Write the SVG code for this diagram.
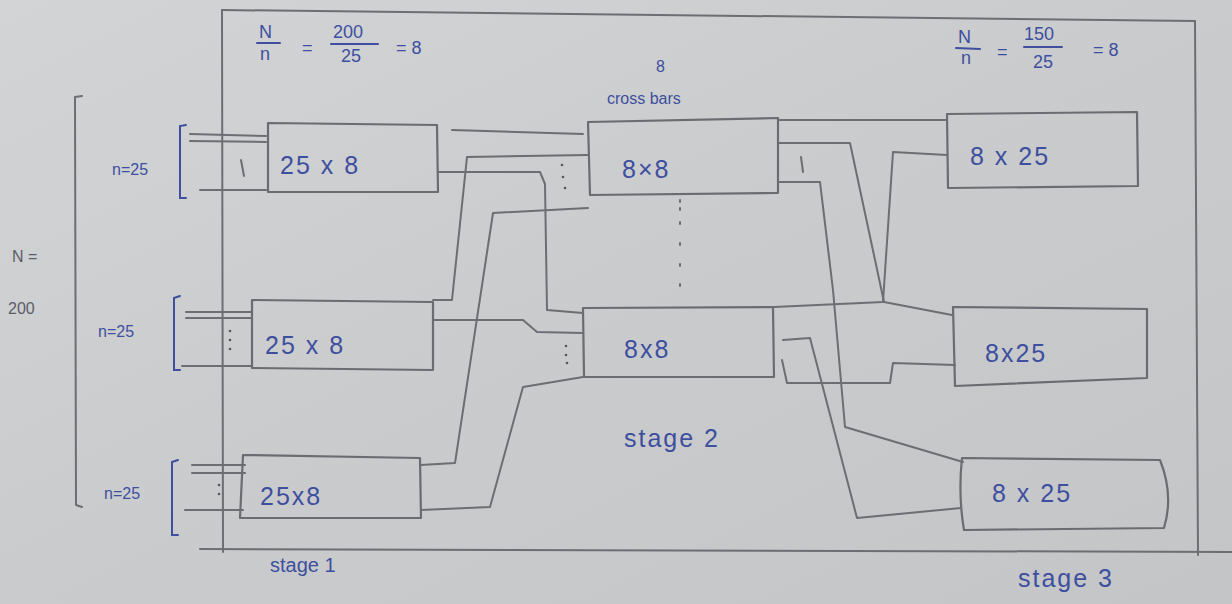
<svg xmlns="http://www.w3.org/2000/svg" width="1232" height="604" viewBox="0 0 1232 604">
<defs>
<linearGradient id="paper" x1="0" y1="0" x2="1" y2="1">
<stop offset="0" stop-color="#d3d4d6"/>
<stop offset="0.5" stop-color="#cacbcd"/>
<stop offset="1" stop-color="#c4c5c7"/>
</linearGradient>
</defs>
<style>
.pen{fill:none;stroke:#6c6e73;stroke-width:2;stroke-linecap:round;stroke-linejoin:round}
.box{fill:none;stroke:#6a6c71;stroke-width:2.2;stroke-linejoin:round}
.ink{fill:#3d4f9e;font-family:"Liberation Sans",Arial,sans-serif}
.inkl{fill:none;stroke:#3d4f9e;stroke-width:2;stroke-linecap:round}
.lbl{font-size:25px;letter-spacing:2px}
.sm{font-size:16px}
.fr{font-size:18px}
.st{font-size:20px}
.gr{fill:#5a5c66;font-family:"Liberation Sans",Arial,sans-serif;font-size:16px}
.dot{fill:#55575c}
</style>
<rect width="1232" height="604" fill="url(#paper)"/>

<g id="frame">
<path class="pen" d="M222,10 L1195,21"/>
<path class="pen" d="M222,10 L223,552"/>
<path class="pen" d="M1195,21 L1198,555"/>
<path class="pen" d="M200,549 L1232,552"/>
<path class="pen" d="M82,96 L75,97 L76,505 L82,507"/>
</g>

<g id="formula-left">
<text class="ink fr" x="259" y="38">N</text>
<path class="inkl" d="M257,43 L280,43"/>
<text class="ink fr" x="260" y="60">n</text>
<text class="ink fr" x="302" y="54">=</text>
<text class="ink fr" x="333" y="38">200</text>
<path class="inkl" d="M331,44 L378,44"/>
<text class="ink fr" x="341" y="62">25</text>
<text class="ink fr" x="396" y="54">= 8</text>
</g>

<g id="formula-right">
<text class="ink fr" x="958" y="43">N</text>
<path class="inkl" d="M956,48 L980,49"/>
<text class="ink fr" x="961" y="64">n</text>
<text class="ink fr" x="997" y="58">=</text>
<text class="ink fr" x="1024" y="40">150</text>
<path class="inkl" d="M1024,47 L1062,47"/>
<text class="ink fr" x="1033" y="68">25</text>
<text class="ink fr" x="1093" y="56">= 8</text>
</g>

<g id="crossbars-label">
<text class="ink sm" x="656" y="72">8</text>
<text class="ink sm" x="607" y="104">cross bars</text>
</g>

<g id="N-label">
<text class="gr" x="12" y="262">N =</text>
<text class="gr" x="8" y="314">200</text>
</g>

<g id="input1">
<text class="ink sm" x="112" y="175">n=25</text>
<path class="inkl" d="M186,125 L180,126 L180,198 L186,198"/>
<path class="pen" d="M190,134 L266,136 M190,141 L266,142 M200,190 L266,190"/>
<path class="pen" d="M241,160 L244,176"/>
</g>
<g id="input2">
<text class="ink sm" x="98" y="337">n=25</text>
<path class="inkl" d="M180,296 L174,298 L174,370 L180,370"/>
<path class="pen" d="M186,312 L252,312 M186,318 L252,318 M182,366 L252,366"/>
<circle class="dot" cx="230" cy="331" r="1.3"/><circle class="dot" cx="230" cy="340" r="1.3"/><circle class="dot" cx="230" cy="349" r="1.3"/>
</g>
<g id="input3">
<text class="ink sm" x="104" y="499">n=25</text>
<path class="inkl" d="M178,460 L172,462 L172,535 L178,535"/>
<path class="pen" d="M192,465 L245,465 M192,473 L245,473 M185,510 L243,510"/>
<circle class="dot" cx="219" cy="485" r="1.3"/><circle class="dot" cx="219" cy="494" r="1.3"/>
</g>

<g id="s1b1">
<path class="box" d="M268,123 L437,125 L438,192 L268,192 Z"/>
<text class="ink lbl" x="280" y="174">25 x 8</text>
</g>
<g id="s1b2">
<path class="box" d="M252,300 L433,302 L433,370 L252,368 Z"/>
<text class="ink lbl" x="265" y="354">25 x 8</text>
</g>
<g id="s1b3">
<path class="box" d="M243,455 L420,458 L421,518 L240,518 Z"/>
<text class="ink lbl" x="260" y="505">25x8</text>
</g>

<g id="s2b1">
<path class="box" d="M588,122 L778,118 L778,193 L590,195 Z"/>
<text class="ink lbl" x="622" y="178">8×8</text>
</g>
<g id="s2b2">
<path class="box" d="M583,308 L773,307 L774,377 L584,377 Z"/>
<text class="ink lbl" x="624" y="358">8x8</text>
</g>
<g id="s2-dots">
<path class="pen" d="M680,200 L680,210 M680,222 L680,230 M680,243 L680,250 M680,264 L680,272 M680,284 L680,290" stroke-dasharray="2 6"/>
<circle class="dot" cx="562" cy="165" r="1.3"/><circle class="dot" cx="563" cy="177" r="1.3"/><circle class="dot" cx="565" cy="188" r="1.3"/>
<circle class="dot" cx="566" cy="346" r="1.3"/><circle class="dot" cx="566" cy="355" r="1.3"/><circle class="dot" cx="567" cy="363" r="1.3"/>
<path class="pen" d="M801,157 L803,172"/>
</g>

<g id="s3b1">
<path class="box" d="M947,114 L1137,112 L1138,186 L948,188 Z"/>
<text class="ink lbl" x="970" y="165">8 x 25</text>
</g>
<g id="s3b2">
<path class="box" d="M953,307 L1147,309 L1147,378 L955,386 Z"/>
<text class="ink lbl" x="985" y="362">8x25</text>
</g>
<g id="s3b3">
<path class="box" d="M962,458 L1160,460 Q1174,495 1164,528 L964,530 Q958,495 962,458 Z"/>
<text class="ink lbl" x="992" y="502">8 x 25</text>
</g>

<g id="connectors">
<path class="pen" d="M452,130 L583,134"/>
<path class="pen" d="M433,300 L452,300 L467,157 L588,155"/>
<path class="pen" d="M438,172 L540,172 L545,184 L547,310 L583,313"/>
<path class="pen" d="M421,465 L455,463 L493,213 L588,208"/>
<path class="pen" d="M433,320 L523,320 L537,332 L583,333"/>
<path class="pen" d="M421,510 L490,507 L523,387 L583,377"/>
<path class="pen" d="M778,120 L947,120"/>
<path class="pen" d="M779,143 L850,143 L884,302 L952,315"/>
<path class="pen" d="M774,307 L883,302 L893,152 L947,155"/>
<path class="pen" d="M779,182 L820,182 L833,290 L845,427 L963,462"/>
<path class="pen" d="M783,340 L810,338 L857,518 L961,508"/>
<path class="pen" d="M782,360 L787,383 L890,383 L893,363 L955,365"/>
</g>

<g id="stage-labels">
<text class="ink st" x="270" y="572">stage 1</text>
<text class="ink lbl" x="624" y="447">stage 2</text>
<text class="ink lbl" x="1018" y="587">stage 3</text>
</g>
</svg>
